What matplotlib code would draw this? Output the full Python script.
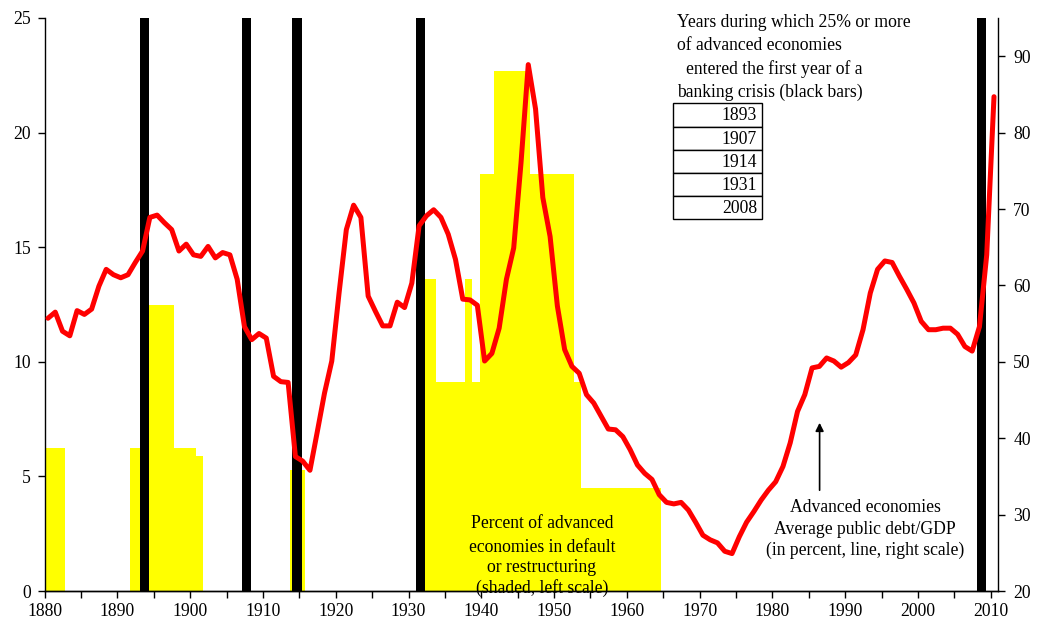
import numpy as np
import matplotlib
matplotlib.use("Agg")
import matplotlib.pyplot as plt
from matplotlib.patches import Rectangle

plt.rcParams['font.family'] = ['Liberation Serif', 'DejaVu Serif']

# ---- data ----
debt_years = list(range(1880, 2011))
debt_gdp = [55.7, 56.5, 54.0, 53.4, 56.7, 56.2, 56.9, 59.9, 62.1, 61.4,
            61.0, 61.4, 63.0, 64.5, 68.9, 69.2, 68.2, 67.3, 64.5, 65.4,
            64.0, 63.8, 65.1, 63.6, 64.3, 64.0, 60.8, 54.6, 52.9, 53.7,
            53.1, 48.1, 47.4, 47.3, 37.6, 37.0, 35.8, 40.8, 45.9, 50.1,
            59.0, 67.3, 70.5, 68.9, 58.6, 56.6, 54.7, 54.7, 57.8, 57.1,
            60.3, 67.8, 69.1, 69.9, 68.9, 66.7, 63.4, 58.2, 58.1, 57.4,
            50.1, 51.1, 54.4, 60.8, 64.9, 76.0, 88.9, 83.1, 71.5, 66.4,
            57.3, 51.6, 49.4, 48.5, 45.7, 44.6, 42.9, 41.2, 41.1, 40.2,
            38.5, 36.5, 35.4, 34.6, 32.6, 31.6, 31.4, 31.6, 30.6, 29.0,
            27.3, 26.7, 26.3, 25.2, 24.9, 27.1, 29.0, 30.4, 31.9, 33.2,
            34.3, 36.3, 39.4, 43.5, 45.7, 49.2, 49.4, 50.5, 50.1, 49.3,
            49.9, 50.9, 54.2, 59.0, 62.1, 63.2, 63.0, 61.2, 59.5, 57.7,
            55.3, 54.2, 54.2, 54.4, 54.4, 53.6, 52.0, 51.4, 54.6, 64.0,
            84.7]

default_years = [1880, 1881, 1882,
                 1892, 1893, 1894, 1895, 1896, 1897, 1898, 1899, 1900, 1901,
                 1914, 1915,
                 1932, 1933, 1934, 1935, 1936, 1937, 1938, 1939, 1940, 1941,
                 1942, 1943, 1944, 1945, 1946, 1947, 1948, 1949, 1950, 1951,
                 1952, 1953, 1954, 1955, 1956, 1957, 1958, 1959, 1960, 1961,
                 1962, 1963, 1964]
default_pct = [6.25, 6.25, 6.25,
               6.25, 6.25, 12.5, 12.5, 12.5, 12.5, 6.25, 6.25, 6.25, 5.9,
               5.3, 5.3,
               13.6, 13.6, 9.1, 9.1, 9.1, 9.1, 13.6, 9.1, 18.2, 18.2,
               22.7, 22.7, 22.7, 22.7, 22.7, 18.2, 18.2, 18.2, 18.2, 18.2,
               18.2, 9.1, 4.5, 4.5, 4.5, 4.5, 4.5, 4.5, 4.5, 4.5,
               4.5, 4.5, 4.5]

crisis_years = [1893, 1907, 1914, 1931, 2008]

left_ticks = [0, 5, 10, 15, 20, 25]
right_ticks = [20, 30, 40, 50, 60, 70, 80, 90]
x_major = list(range(1880, 2011, 10))
x_minor = list(range(1885, 2011, 10))

# ---- figure ----
W, H = 1039, 627
fig = plt.figure(figsize=(W / 100, H / 100), dpi=100)
ax = fig.add_axes([44.7 / W, 1 - 591 / H, (998 - 44.7) / W, (591 - 18) / H])
ax2 = ax.twinx()

ax.bar(np.array(default_years) - 0.25, default_pct, width=1.0, align='edge',
       color='#FFFF00', linewidth=0, zorder=1)
ax.bar(np.array(crisis_years) + 0.05, 25, width=1.25, align='edge',
       color='black', linewidth=0, zorder=2)
ax2.plot(np.array(debt_years) + 0.45, debt_gdp, color='#FF0000', lw=3.6,
         solid_joinstyle='round', solid_capstyle='round', zorder=3)

ax.set_xlim(1880, 2011)
ax.set_ylim(0, 25)
ax2.set_ylim(20, 95)
ax.set_yticks(left_ticks)
ax2.set_yticks(right_ticks)
ax.set_xticks(x_major)
ax.set_xticks(x_minor, minor=True)

for a in (ax, ax2):
    a.spines['top'].set_visible(False)
    for s in a.spines.values():
        s.set_linewidth(1.0)
        s.set_color('black')
    a.patch.set_visible(False)
ax2.spines['left'].set_visible(False)
ax.spines['right'].set_visible(False)

ax.tick_params(axis='both', which='both', direction='out', length=5, width=1,
               labelsize=12.7, colors='black')
ax.tick_params(axis='y', pad=5)
ax.tick_params(axis='x', pad=4)
ax2.tick_params(axis='y', direction='out', length=5, width=1, labelsize=12.7,
                pad=6, colors='black')

fs = 12.7
def fx(x):
    return x / W
def fy(y):
    return 1 - y / H

# top annotation
lines = [("Years during which 25% or more", 677),
         ("of advanced economies", 677),
         ("entered the first year of a", 686),
         ("banking crisis (black bars)", 677)]
ys = [22.7, 45.7, 69.0, 92.3]
for (t, x0), y0 in zip(lines, ys):
    fig.text(fx(x0), fy(y0), t, ha='left', va='center', fontsize=fs)

# table of crisis years
row_top = 103.3
row_h = 23.2
for i, yr in enumerate(crisis_years):
    y_top = row_top + i * row_h
    fig.patches.append(Rectangle((fx(673), fy(y_top + row_h)), (761.5 - 673) / W,
                                 row_h / H, transform=fig.transFigure,
                                 facecolor='white', edgecolor='black', lw=1.0,
                                 zorder=5))
    fig.text(fx(757), fy(y_top + row_h / 2 + 1), str(yr), ha='right',
             va='center', fontsize=fs, zorder=6)

# left annotation
for t, y0 in zip(["Percent of advanced", "economies in default",
                  "or restructuring", "(shaded, left scale)"],
                 [524, 547, 568, 588]):
    fig.text(fx(542), fy(y0), t, ha='center', va='center', fontsize=fs)

# right annotation
for t, y0 in zip(["Advanced economies", "Average public debt/GDP",
                  "(in percent, line, right scale)"], [508, 530, 550]):
    fig.text(fx(865), fy(y0), t, ha='center', va='center', fontsize=fs)

ax2.annotate('', xy=(fx(819.6), fy(420)), xytext=(fx(819.6), fy(493)),
             xycoords='figure fraction', textcoords='figure fraction',
             arrowprops=dict(arrowstyle='-|>', color='black', lw=1.2,
                             mutation_scale=12))

fig.savefig('out.png', dpi=100, facecolor='white')
